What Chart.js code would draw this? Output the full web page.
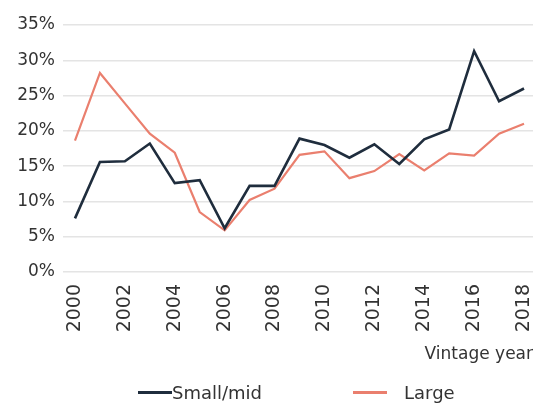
<!DOCTYPE html>
<html>
<head>
<meta charset="utf-8">
<script src="https://cdn.jsdelivr.net/npm/chart.js@4.4.1/dist/chart.umd.min.js"></script>
<style>
  html, body { margin: 0; padding: 0; background: #fff; }
  .wrap { position: relative; width: 537px; height: 403px; }
  .legend {
    position: absolute; left: 0; top: 381px; width: 537px; height: 22px;
    font-family: "DejaVu Sans", sans-serif; font-size: 18px; color: #333;
  }
  .legend .item { position: absolute; top: 0; height: 22px; display: flex; align-items: center; }
  .legend .swatch { display: inline-block; width: 34px; height: 3px; }
</style>
</head>
<body>
<div class="wrap">
  <canvas id="chart" width="537" height="403"></canvas>
  <div class="legend">
    <div class="item" style="left:138px"><span class="swatch" style="background:#1f2d3d"></span><span>Small/mid</span></div>
    <div class="item" style="left:353px"><span class="swatch" style="background:#ea7f6e;margin-right:17px"></span><span>Large</span></div>
  </div>
</div>
<script>
const years = [2000, 2001, 2002, 2003, 2004, 2005, 2006, 2007, 2008, 2009,
  2010, 2011, 2012, 2013, 2014, 2015, 2016, 2017, 2018];
const smallMid = [7.6, 15.6, 15.7, 18.2, 12.6, 13.0, 6.2, 12.2, 12.2, 18.9,
  18.0, 16.2, 18.1, 15.3, 18.8, 20.2, 31.3, 24.2, 26.0];
const large = [18.6, 28.2, 23.9, 19.6, 16.9, 8.5, 5.9, 10.2, 11.8, 16.6,
  17.1, 13.3, 14.3, 16.7, 14.4, 16.8, 16.5, 19.6, 21.0];
const yearTicks = [2000, 2002, 2004, 2006, 2008, 2010, 2012, 2014, 2016, 2018];
const pctTicks = [0, 5, 10, 15, 20, 25, 30, 35];

const font = "'DejaVu Sans', sans-serif";

const ctx = document.getElementById("chart").getContext("2d");
const chart = new Chart(ctx, {
  type: "line",
  data: {
    datasets: [
      {
        label: "Small/mid",
        data: years.map((yr, i) => ({ x: yr, y: smallMid[i] })),
        borderColor: "#1f2d3d",
        backgroundColor: "#1f2d3d",
        borderWidth: 2.6,
        pointRadius: 0,
        tension: 0,
      },
      {
        label: "Large",
        data: years.map((yr, i) => ({ x: yr, y: large[i] })),
        borderColor: "#ea7f6e",
        backgroundColor: "#ea7f6e",
        borderWidth: 2.2,
        pointRadius: 0,
        tension: 0,
      },
    ],
  },
  options: {
    responsive: false,
    animation: false,
    layout: {
      padding: { top: 25, right: 4, left: 0, bottom: 38 },
    },
    plugins: {
      legend: { display: false },
      tooltip: { enabled: false },
    },
    scales: {
      x: {
        type: "linear",
        min: 1999.52,
        max: 2018.36,
        afterBuildTicks: (axis) => {
          axis.ticks = yearTicks.map((v) => ({ value: v }));
        },
        afterFit: (axis) => {
          axis.height = 93;
          axis.paddingLeft = 0;
          axis.paddingRight = 0;
        },
        grid: { display: false },
        border: { display: false },
        ticks: {
          autoSkip: false,
          minRotation: 90,
          maxRotation: 90,
          padding: 4,
          color: "#333",
          font: { family: font, size: 19 },
          callback: (v) => String(v),
        },
        title: {
          display: true,
          text: "Vintage year",
          align: "end",
          color: "#333",
          font: { family: font, size: 17 },
          padding: { top: 12, bottom: 0 },
        },
      },
      y: {
        min: 0,
        max: 35,
        afterBuildTicks: (axis) => {
          axis.ticks = pctTicks.map((v) => ({ value: v }));
        },
        afterFit: (axis) => {
          axis.width = 63;
          axis.paddingTop = 0;
          axis.paddingBottom = 0;
        },
        grid: {
          color: "#e4e4e4",
          lineWidth: 1.5,
          drawTicks: false,
        },
        border: { display: false },
        ticks: {
          padding: 8,
          color: "#333",
          font: { family: font, size: 17 },
          callback: (v) => v + "%",
        },
      },
    },
  },
});
</script>
</body>
</html>
